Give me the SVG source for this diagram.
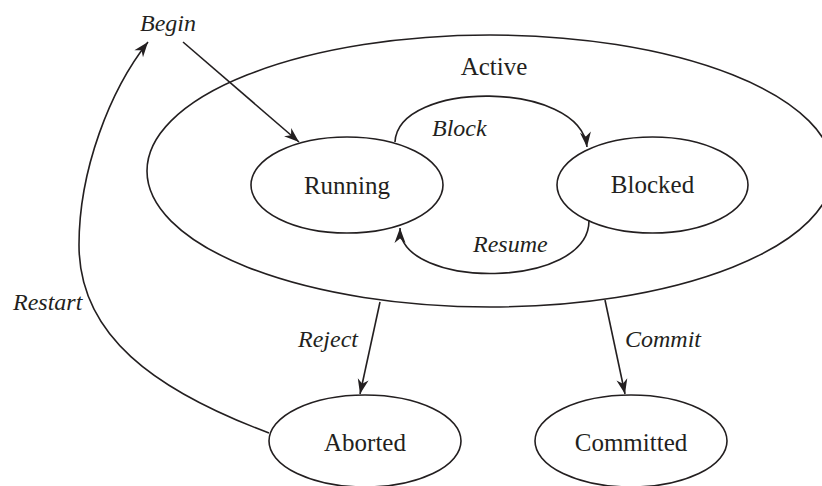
<svg xmlns="http://www.w3.org/2000/svg" width="822" height="486" viewBox="0 0 822 486">
<style>
.n{fill:none;stroke:#231f20;stroke-width:1.6}
.e{fill:none;stroke:#231f20;stroke-width:1.6}
.t{font-family:"Liberation Serif","Times New Roman",serif;font-size:25px;fill:#231f20;text-anchor:middle}
.l{font-family:"Liberation Serif","Times New Roman",serif;font-size:24px;font-style:italic;fill:#231f20}
</style>
<defs>
<marker id="ah" viewBox="-16 -7 18 14" refX="0" refY="0" markerWidth="18" markerHeight="14" markerUnits="userSpaceOnUse" orient="auto">
<path d="M0,0 L-15,-5.5 L-10.5,0 L-15,5.5 Z" fill="#231f20"/>
</marker>
</defs>
<g id="active">
<ellipse class="n" cx="490" cy="171" rx="343" ry="136"/>
<text class="t" x="494" y="75">Active</text>
</g>
<g id="running">
<ellipse class="n" cx="347" cy="185" rx="96" ry="48"/>
<text class="t" x="347" y="194">Running</text>
</g>
<g id="blocked">
<ellipse class="n" cx="652.5" cy="185" rx="95.5" ry="48"/>
<text class="t" x="652.5" y="193">Blocked</text>
</g>
<g id="aborted">
<ellipse class="n" cx="365" cy="441" rx="96" ry="46"/>
<text class="t" x="365" y="451">Aborted</text>
</g>
<g id="committed">
<ellipse class="n" cx="631" cy="441" rx="96" ry="46"/>
<text class="t" x="631" y="451">Committed</text>
</g>
<g id="connectors">
<path class="e" d="M183,42 L299,142" marker-end="url(#ah)"/>
<path class="e" d="M269,433 C154,390 79,335 79,245 C79,170 110,90 148,42" marker-end="url(#ah)"/>
<path class="e" d="M395,142 C398,80 580,80 587,147" marker-end="url(#ah)"/>
<path class="e" d="M589,220 C590,290 400,290 400,228" marker-end="url(#ah)"/>
<path class="e" d="M380,302 L360,394" marker-end="url(#ah)"/>
<path class="e" d="M605,300 L625,394" marker-end="url(#ah)"/>
</g>
<g id="labels">
<text class="l" x="140" y="31">Begin</text>
<text class="l" x="13" y="310">Restart</text>
<text class="l" x="432" y="136">Block</text>
<text class="l" x="473" y="252">Resume</text>
<text class="l" x="298" y="347">Reject</text>
<text class="l" x="625" y="347">Commit</text>
</g>
</svg>
